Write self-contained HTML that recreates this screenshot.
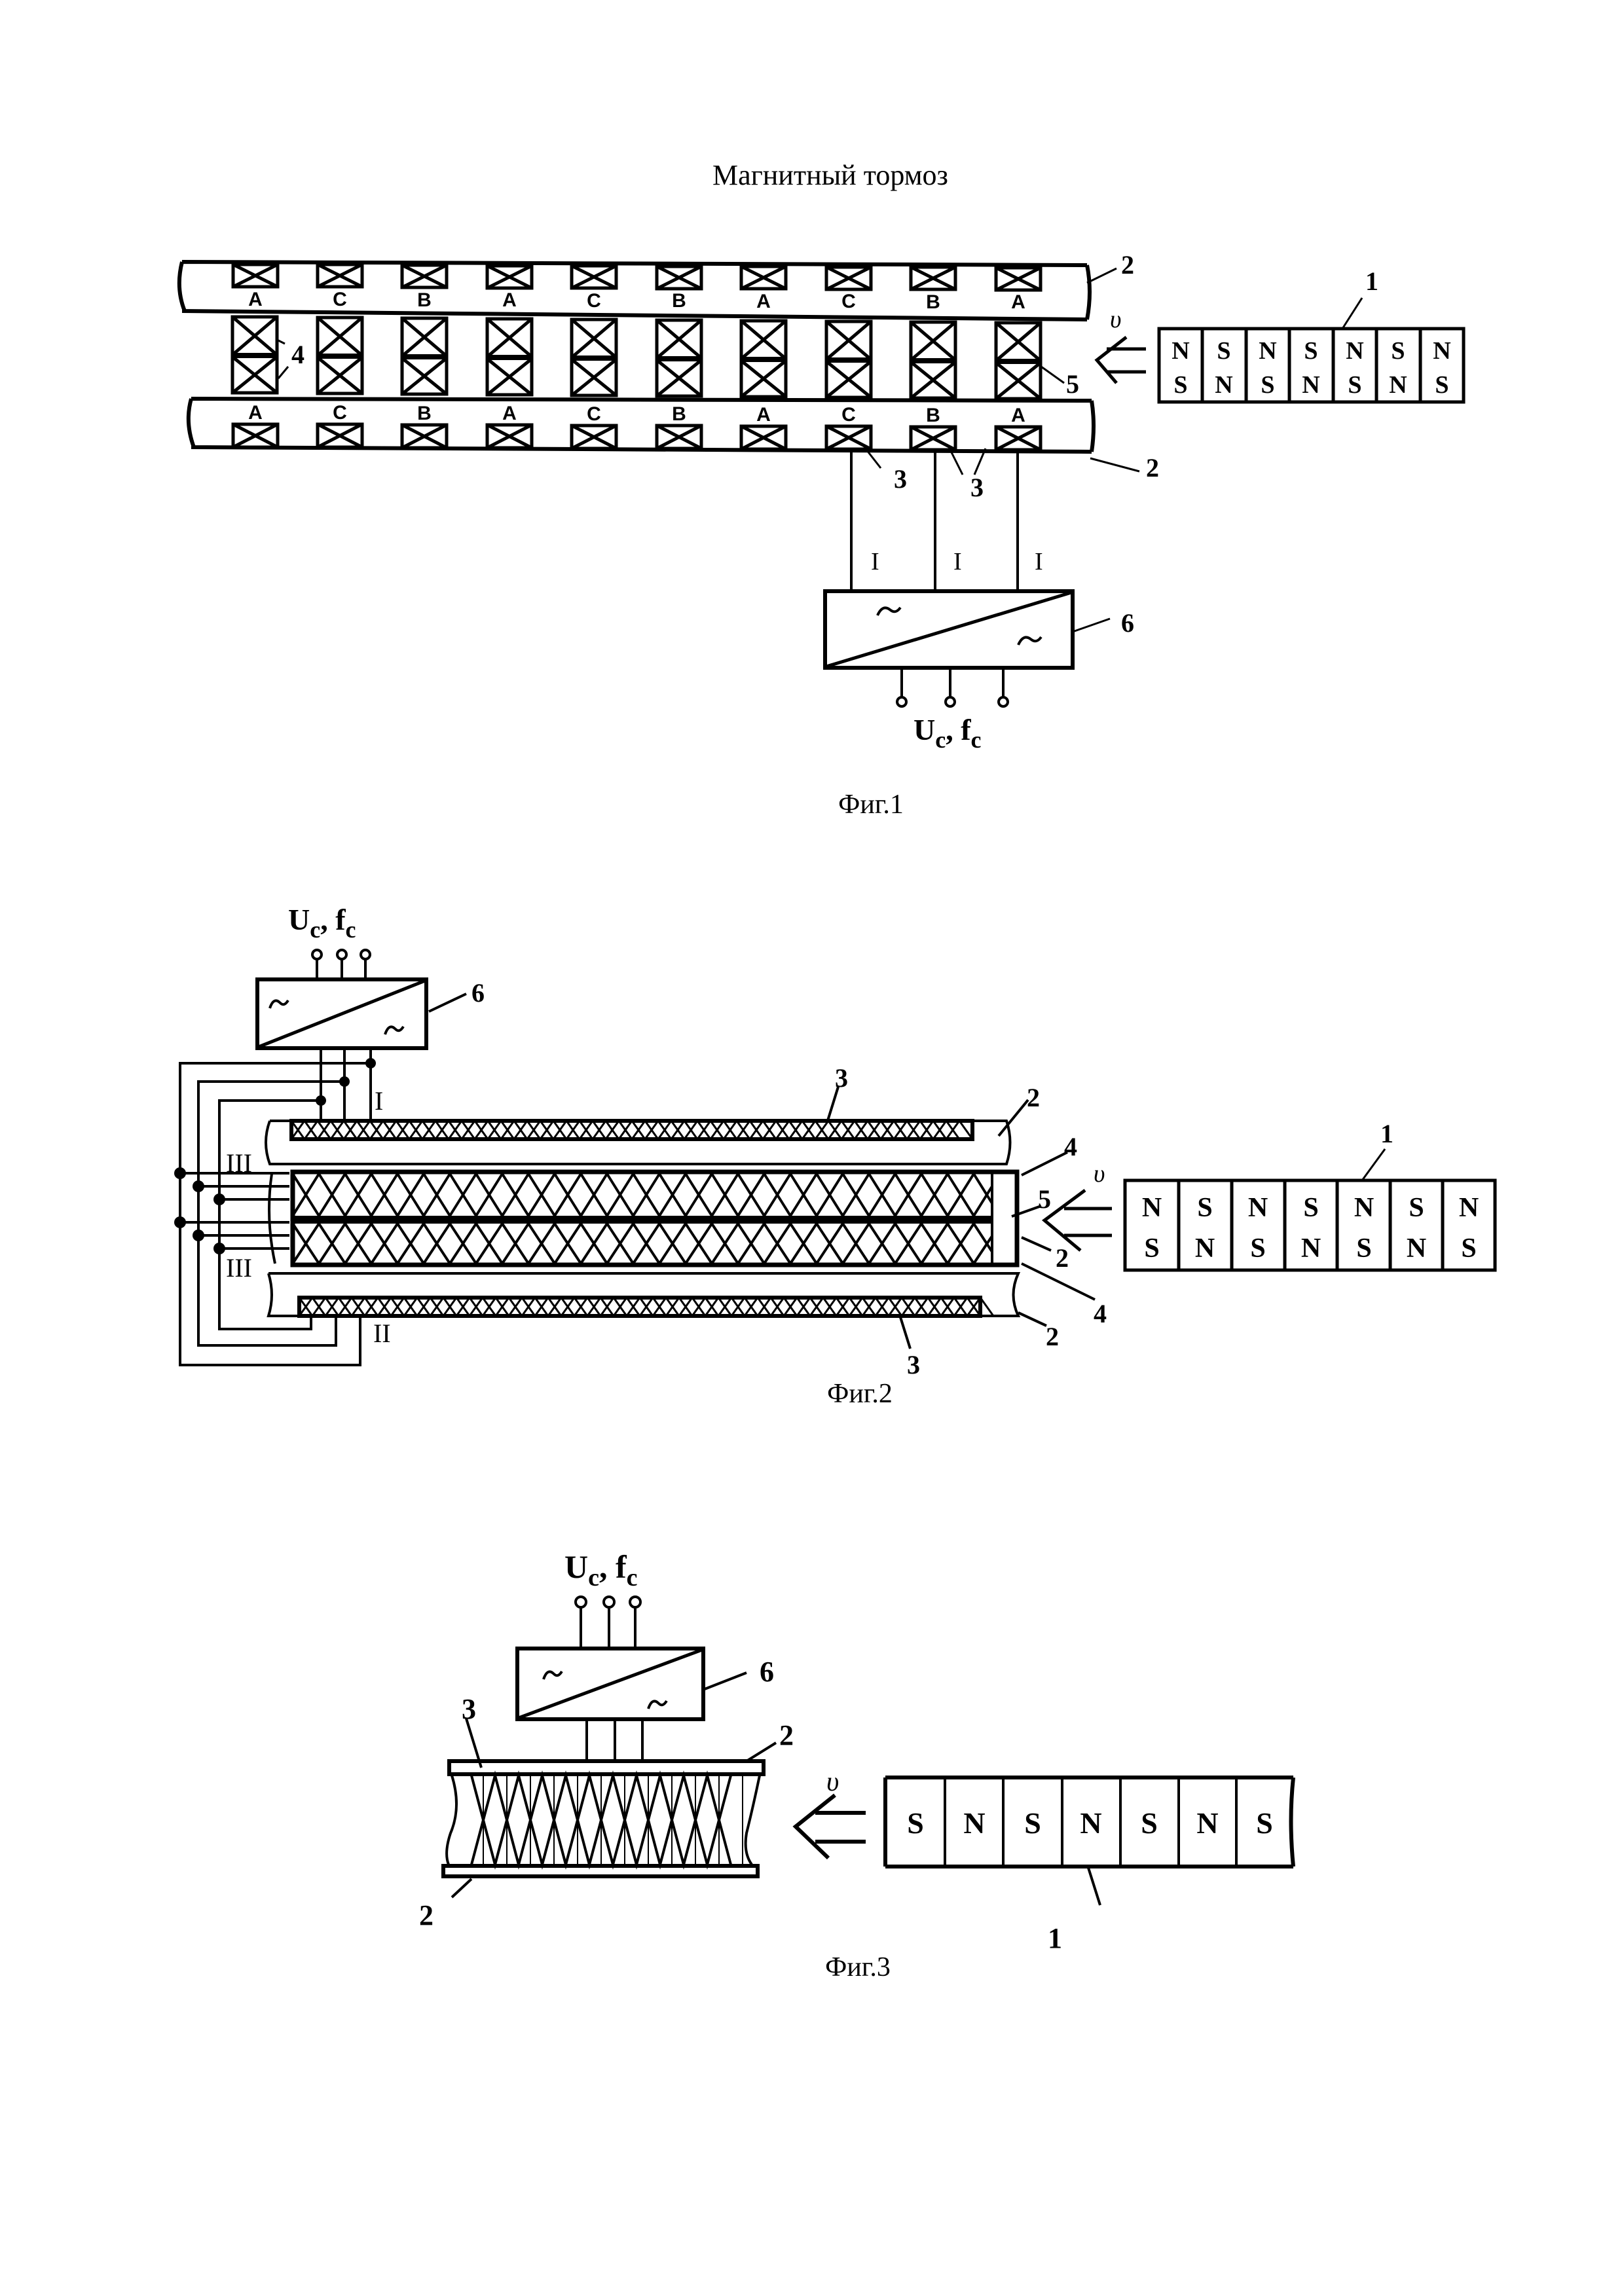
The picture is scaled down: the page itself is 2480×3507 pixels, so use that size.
<!DOCTYPE html>
<html><head><meta charset="utf-8"><style>
html,body{margin:0;padding:0;background:#fff;}
svg{display:block;}
.t{font-family:"Liberation Serif",serif;}
</style></head><body>
<svg width="2480" height="3507" viewBox="0 0 2480 3507" xmlns="http://www.w3.org/2000/svg">
<rect width="2480" height="3507" fill="#fff"/>
<text x="1268" y="282" font-family="Liberation Serif,serif" font-size="44" text-anchor="middle">Магнитный тормоз</text>

<!-- FIG 1 -->
<g stroke="#000" fill="none" stroke-width="6">
<path d="M278,400 L1660,405 M278,475 L1660,488 M278,400 Q268,440 282,475 M1660,405 Q1668,445 1660,488"/>
<path d="M292,609 L1667,612 M292,683 L1667,690 M292,609 Q282,645 296,683 M1667,612 Q1673,650 1667,690"/>
</g>
<g stroke="#000" fill="none" stroke-width="5">
<rect x="356" y="404" width="68" height="34"/><path d="M356,404L424,438M424,404L356,438"/>
<rect x="485" y="404" width="68" height="34"/><path d="M485,404L553,438M553,404L485,438"/>
<rect x="614" y="405" width="68" height="34"/><path d="M614,405L682,439M682,405L614,439"/>
<rect x="744" y="406" width="68" height="34"/><path d="M744,406L812,440M812,406L744,440"/>
<rect x="873" y="406" width="68" height="34"/><path d="M873,406L941,440M941,406L873,440"/>
<rect x="1003" y="407" width="68" height="34"/><path d="M1003,407L1071,441M1071,407L1003,441"/>
<rect x="1132" y="407" width="68" height="34"/><path d="M1132,407L1200,441M1200,407L1132,441"/>
<rect x="1262" y="408" width="68" height="34"/><path d="M1262,408L1330,442M1330,408L1262,442"/>
<rect x="1391" y="408" width="68" height="34"/><path d="M1391,408L1459,442M1459,408L1391,442"/>
<rect x="1521" y="409" width="68" height="34"/><path d="M1521,409L1589,443M1589,409L1521,443"/>

<rect x="356" y="648" width="68" height="35"/><path d="M356,648L424,683M424,648L356,683"/>
<rect x="485" y="648" width="68" height="35"/><path d="M485,648L553,683M553,648L485,683"/>
<rect x="614" y="649" width="68" height="35"/><path d="M614,649L682,684M682,649L614,684"/>
<rect x="744" y="649" width="68" height="35"/><path d="M744,649L812,684M812,649L744,684"/>
<rect x="873" y="650" width="68" height="35"/><path d="M873,650L941,685M941,650L873,685"/>
<rect x="1003" y="650" width="68" height="35"/><path d="M1003,650L1071,685M1071,650L1003,685"/>
<rect x="1132" y="651" width="68" height="35"/><path d="M1132,651L1200,686M1200,651L1132,686"/>
<rect x="1262" y="651" width="68" height="35"/><path d="M1262,651L1330,686M1330,651L1262,686"/>
<rect x="1391" y="652" width="68" height="35"/><path d="M1391,652L1459,687M1459,652L1391,687"/>
<rect x="1521" y="652" width="68" height="35"/><path d="M1521,652L1589,687M1589,652L1521,687"/>

<rect x="355" y="484" width="68" height="116"/><path d="M355,484L423,542M423,484L355,542M355,545L423,600M423,545L355,600"/>
<rect x="485" y="485" width="68" height="116"/><path d="M485,485L553,543M553,485L485,543M485,546L553,601M553,546L485,601"/>
<rect x="614" y="486" width="68" height="116"/><path d="M614,486L682,544M682,486L614,544M614,547L682,602M682,547L614,602"/>
<rect x="744" y="487" width="68" height="116"/><path d="M744,487L812,545M812,487L744,545M744,548L812,603M812,548L744,603"/>
<rect x="873" y="488" width="68" height="116"/><path d="M873,488L941,546M941,488L873,546M873,549L941,604M941,549L873,604"/>
<rect x="1003" y="489" width="68" height="116"/><path d="M1003,489L1071,547M1071,489L1003,547M1003,550L1071,605M1071,550L1003,605"/>
<rect x="1132" y="490" width="68" height="116"/><path d="M1132,490L1200,548M1200,490L1132,548M1132,551L1200,606M1200,551L1132,606"/>
<rect x="1262" y="491" width="68" height="116"/><path d="M1262,491L1330,549M1330,491L1262,549M1262,552L1330,607M1330,552L1262,607"/>
<rect x="1391" y="492" width="68" height="116"/><path d="M1391,492L1459,550M1459,492L1391,550M1391,553L1459,608M1459,553L1391,608"/>
<rect x="1521" y="493" width="68" height="116"/><path d="M1521,493L1589,551M1589,493L1521,551M1521,554L1589,609M1589,554L1521,609"/>
</g>
<g fill="#000">
<rect x="355" y="539" width="68" height="8"/><rect x="485" y="540" width="68" height="8"/><rect x="614" y="541" width="68" height="8"/><rect x="744" y="542" width="68" height="8"/><rect x="873" y="543" width="68" height="8"/><rect x="1003" y="544" width="68" height="8"/><rect x="1132" y="545" width="68" height="8"/><rect x="1262" y="546" width="68" height="8"/><rect x="1391" y="547" width="68" height="8"/><rect x="1521" y="548" width="68" height="8"/>
</g>
<g font-family="Liberation Sans,sans-serif" font-weight="bold" font-size="30" text-anchor="middle">
<text x="390" y="467">A</text><text x="519" y="467">C</text><text x="648" y="468">B</text><text x="778" y="468">A</text><text x="907" y="469">C</text><text x="1037" y="469">B</text><text x="1166" y="470">A</text><text x="1296" y="470">C</text><text x="1425" y="471">B</text><text x="1555" y="471">A</text>
<text x="390" y="640">A</text><text x="519" y="640">C</text><text x="648" y="641">B</text><text x="778" y="641">A</text><text x="907" y="642">C</text><text x="1037" y="642">B</text><text x="1166" y="643">A</text><text x="1296" y="643">C</text><text x="1425" y="644">B</text><text x="1555" y="644">A</text>
</g>
<g class="t" font-weight="bold" font-size="40">
<text x="445" y="555">4</text><text x="1628" y="600">5</text>
<text x="1712" y="418">2</text><text x="1750" y="728">2</text>
<text x="1365" y="745">3</text><text x="1482" y="758">3</text>
<text x="2085" y="443">1</text><text x="1712" y="965">6</text>
</g>
<g stroke="#000" stroke-width="3" fill="none">
<path d="M425,520 L435,525 M425,578 L440,560"/>
<path d="M1590,560 L1625,585"/>
<path d="M1660,432 L1705,410 M1665,700 L1740,720"/>
<path d="M1320,683 L1345,715 M1450,685 L1470,725 M1505,685 L1488,725"/>
<path d="M2050,502 L2080,455"/>
<path d="M1638,965 L1695,945"/>
</g>
<text x="1695" y="500" class="t" font-style="italic" font-size="38">υ</text>
<g stroke="#000" stroke-width="5" fill="none">
<path d="M1690,533 L1750,533 M1690,568 L1750,568 M1720,515 L1675,550 L1705,585"/>
<rect x="1770" y="502" width="465" height="112"/>
<path d="M1836,502V614M1903,502V614M1969,502V614M2036,502V614M2102,502V614M2169,502V614"/>
</g>
<g class="t" font-weight="bold" font-size="38" text-anchor="middle">
<text x="1803" y="548">N</text><text x="1869" y="548">S</text><text x="1936" y="548">N</text><text x="2002" y="548">S</text><text x="2069" y="548">N</text><text x="2135" y="548">S</text><text x="2202" y="548">N</text>
<text x="1803" y="600">S</text><text x="1869" y="600">N</text><text x="1936" y="600">S</text><text x="2002" y="600">N</text><text x="2069" y="600">S</text><text x="2135" y="600">N</text><text x="2202" y="600">S</text>
</g>
<g stroke="#000" stroke-width="4" fill="none">
<path d="M1300,688V903M1428,688V903M1554,688V903"/>
<path d="M1377,1020V1065M1451,1020V1065M1532,1020V1065"/>
<rect x="1260" y="903" width="378" height="117" stroke-width="6"/>
<path d="M1262,1018 L1636,905" stroke-width="5"/>
<path d="M1340,940 q8,-18 20,-8 q8,6 15,-4 M1555,985 q8,-18 20,-8 q8,6 15,-4"/>
<circle cx="1377" cy="1072" r="7"/><circle cx="1451" cy="1072" r="7"/><circle cx="1532" cy="1072" r="7"/>
</g>
<g class="t" font-family="Liberation Sans,sans-serif" font-size="38">
<text x="1330" y="870">I</text><text x="1456" y="870">I</text><text x="1580" y="870">I</text>
</g>
<text x="1395" y="1130" class="t" font-weight="bold" font-size="46">U<tspan font-size="36" dy="12">c</tspan><tspan dy="-12">, f</tspan><tspan font-size="36" dy="12">c</tspan></text>
<text x="1330" y="1242" class="t" font-size="42" text-anchor="middle">Фиг.1</text>

<!-- FIG 2 -->
<text x="440" y="1420" class="t" font-weight="bold" font-size="46">U<tspan font-size="36" dy="12">c</tspan><tspan dy="-12">, f</tspan><tspan font-size="36" dy="12">c</tspan></text>
<g stroke="#000" stroke-width="4" fill="none">
<circle cx="484" cy="1458" r="7"/><circle cx="522" cy="1458" r="7"/><circle cx="558" cy="1458" r="7"/>
<path d="M484,1465V1496M522,1465V1496M558,1465V1496"/>
<rect x="393" y="1496" width="258" height="105" stroke-width="6"/>
<path d="M395,1599 L649,1498" stroke-width="5"/>
<path d="M412,1540 q6,-18 16,-8 q6,6 12,-4 M588,1580 q6,-18 16,-8 q6,6 12,-4"/>
<path d="M655,1545 L712,1518"/>
<path d="M490,1601V1712M526,1601V1712M566,1601V1712"/>
<path d="M566,1624H275V2085H550V2010M526,1652H303V2055H513V2010M490,1681H335V2030H475V2010"/>
<path d="M275,1792H442M303,1812H442M335,1832H442M275,1867H442M303,1887H442M335,1907H442"/>
<path d="M412,1712H1537 Q1548,1745 1537,1778 H412 Q400,1745 412,1712"/>
<path d="M410,1945H1555 Q1540,1978 1555,2010 H410 Q420,1978 410,1945"/>
<rect x="447" y="1790" width="1106" height="142" stroke-width="7"/>
<path d="M1515,1790V1932" />
<path d="M1280,1660 L1262,1718 M1570,1680 L1525,1735 M1630,1760 L1560,1795 M1590,1842 L1545,1858 M1605,1910 L1560,1890 M1672,1985 L1560,1930 M1598,2025 L1555,2005 M1390,2060 L1375,2012"/>
<path d="M415,1793 Q405,1860 420,1930"/>
</g>
<rect x="447" y="1857" width="1068" height="12" fill="#000"/>
<g stroke="#000" stroke-width="4" fill="none">
<path d="M447,1793 L487,1857 L527,1793 L567,1857 L607,1793 L647,1857 L687,1793 L727,1857 L767,1793 L807,1857 L847,1793 L887,1857 L927,1793 L967,1857 L1007,1793 L1047,1857 L1087,1793 L1127,1857 L1167,1793 L1207,1857 L1247,1793 L1287,1857 L1327,1793 L1367,1857 L1407,1793 L1447,1857 L1487,1793 L1515,1838"/>
<path d="M447,1857 L487,1793 L527,1857 L567,1793 L607,1857 L647,1793 L687,1857 L727,1793 L767,1857 L807,1793 L847,1857 L887,1793 L927,1857 L967,1793 L1007,1857 L1047,1793 L1087,1857 L1127,1793 L1167,1857 L1207,1793 L1247,1857 L1287,1793 L1327,1857 L1367,1793 L1407,1857 L1447,1793 L1487,1857 L1515,1812"/>
<path d="M447,1869 L487,1930 L527,1869 L567,1930 L607,1869 L647,1930 L687,1869 L727,1930 L767,1869 L807,1930 L847,1869 L887,1930 L927,1869 L967,1930 L1007,1869 L1047,1930 L1087,1869 L1127,1930 L1167,1869 L1207,1930 L1247,1869 L1287,1930 L1327,1869 L1367,1930 L1407,1869 L1447,1930 L1487,1869 L1515,1912"/>
<path d="M447,1930 L487,1869 L527,1930 L567,1869 L607,1930 L647,1869 L687,1930 L727,1869 L767,1930 L807,1869 L847,1930 L887,1869 L927,1930 L967,1869 L1007,1930 L1047,1869 L1087,1930 L1127,1869 L1167,1930 L1207,1869 L1247,1930 L1287,1869 L1327,1930 L1367,1869 L1407,1930 L1447,1869 L1487,1930 L1515,1888"/>
</g>
<g fill="#000">
<circle cx="275" cy="1792" r="9"/><circle cx="303" cy="1812" r="9"/><circle cx="335" cy="1832" r="9"/><circle cx="275" cy="1867" r="9"/><circle cx="303" cy="1887" r="9"/><circle cx="335" cy="1907" r="9"/>
<circle cx="566" cy="1624" r="8"/><circle cx="526" cy="1652" r="8"/><circle cx="490" cy="1681" r="8"/>
</g>
<g stroke="#000" stroke-width="6" fill="#fff">
<rect x="445" y="1712" width="1040" height="28"/>
<rect x="457" y="1982" width="1040" height="28"/>
</g>
<g stroke="#000" stroke-width="3" fill="none">
<path d="M445,1712 l20,28 l20,-28 l20,28 l20,-28 l20,28 l20,-28 l20,28 l20,-28 l20,28 l20,-28 l20,28 l20,-28 l20,28 l20,-28 l20,28 l20,-28 l20,28 l20,-28 l20,28 l20,-28 l20,28 l20,-28 l20,28 l20,-28 l20,28 l20,-28 l20,28 l20,-28 l20,28 l20,-28 l20,28 l20,-28 l20,28 l20,-28 l20,28 l20,-28 l20,28 l20,-28 l20,28 l20,-28 l20,28 l20,-28 l20,28 l20,-28 l20,28 l20,-28 l20,28 l20,-28 l20,28 l20,-28 l20,28"/>
<path d="M445,1740 l20,-28 l20,28 l20,-28 l20,28 l20,-28 l20,28 l20,-28 l20,28 l20,-28 l20,28 l20,-28 l20,28 l20,-28 l20,28 l20,-28 l20,28 l20,-28 l20,28 l20,-28 l20,28 l20,-28 l20,28 l20,-28 l20,28 l20,-28 l20,28 l20,-28 l20,28 l20,-28 l20,28 l20,-28 l20,28 l20,-28 l20,28 l20,-28 l20,28 l20,-28 l20,28 l20,-28 l20,28 l20,-28 l20,28 l20,-28 l20,28 l20,-28 l20,28 l20,-28 l20,28 l20,-28 l20,28 l20,-28 l20,28"/>
<path d="M457,1982 l20,28 l20,-28 l20,28 l20,-28 l20,28 l20,-28 l20,28 l20,-28 l20,28 l20,-28 l20,28 l20,-28 l20,28 l20,-28 l20,28 l20,-28 l20,28 l20,-28 l20,28 l20,-28 l20,28 l20,-28 l20,28 l20,-28 l20,28 l20,-28 l20,28 l20,-28 l20,28 l20,-28 l20,28 l20,-28 l20,28 l20,-28 l20,28 l20,-28 l20,28 l20,-28 l20,28 l20,-28 l20,28 l20,-28 l20,28 l20,-28 l20,28 l20,-28 l20,28 l20,-28 l20,28 l20,-28 l20,28 l20,-28 l20,28"/>
<path d="M457,2010 l20,-28 l20,28 l20,-28 l20,28 l20,-28 l20,28 l20,-28 l20,28 l20,-28 l20,28 l20,-28 l20,28 l20,-28 l20,28 l20,-28 l20,28 l20,-28 l20,28 l20,-28 l20,28 l20,-28 l20,28 l20,-28 l20,28 l20,-28 l20,28 l20,-28 l20,28 l20,-28 l20,28 l20,-28 l20,28 l20,-28 l20,28 l20,-28 l20,28 l20,-28 l20,28 l20,-28 l20,28 l20,-28 l20,28 l20,-28 l20,28 l20,-28 l20,28 l20,-28 l20,28 l20,-28 l20,28 l20,-28 l20,28"/>
</g>
<g class="t" font-family="Liberation Serif,serif" font-size="40">
<text x="572" y="1695">I</text><text x="345" y="1790">III</text><text x="345" y="1950">III</text><text x="570" y="2050">II</text>
</g>
<g class="t" font-weight="bold" font-size="40">
<text x="720" y="1530">6</text><text x="1275" y="1660">3</text><text x="1568" y="1690">2</text>
<text x="1625" y="1765">4</text><text x="1585" y="1845">5</text><text x="1612" y="1935">2</text>
<text x="1670" y="2020">4</text><text x="1597" y="2055">2</text><text x="1385" y="2098">3</text>
<text x="2108" y="1745">1</text>
</g>
<text x="1670" y="1805" class="t" font-style="italic" font-size="38">υ</text>
<g stroke="#000" stroke-width="5" fill="none">
<path d="M1625,1846H1698M1625,1887H1698M1657,1818L1595,1864L1650,1910"/>
<rect x="1718" y="1803" width="565" height="137"/>
<path d="M1800,1803V1940M1881,1803V1940M1962,1803V1940M2042,1803V1940M2123,1803V1940M2203,1803V1940"/>
<path d="M2080,1803 L2115,1755" stroke-width="3"/>
</g>
<g class="t" font-weight="bold" font-size="42" text-anchor="middle">
<text x="1759" y="1858">N</text><text x="1840" y="1858">S</text><text x="1921" y="1858">N</text><text x="2002" y="1858">S</text><text x="2083" y="1858">N</text><text x="2163" y="1858">S</text><text x="2243" y="1858">N</text>
<text x="1759" y="1920">S</text><text x="1840" y="1920">N</text><text x="1921" y="1920">S</text><text x="2002" y="1920">N</text><text x="2083" y="1920">S</text><text x="2163" y="1920">N</text><text x="2243" y="1920">S</text>
</g>
<text x="1313" y="2142" class="t" font-size="42" text-anchor="middle">Фиг.2</text>

<!-- FIG 3 -->
<text x="862" y="2410" class="t" font-weight="bold" font-size="50">U<tspan font-size="38" dy="12">c</tspan><tspan dy="-12">, f</tspan><tspan font-size="38" dy="12">c</tspan></text>
<g stroke="#000" stroke-width="4" fill="none">
<circle cx="887" cy="2447" r="8"/><circle cx="930" cy="2447" r="8"/><circle cx="970" cy="2447" r="8"/>
<path d="M887,2455V2518M930,2455V2518M970,2455V2518"/>
<rect x="790" y="2518" width="284" height="108" stroke-width="6"/>
<path d="M792,2624 L1072,2520" stroke-width="5"/>
<path d="M830,2565 q6,-18 16,-8 q6,6 12,-4 M990,2610 q6,-18 16,-8 q6,6 12,-4"/>
<path d="M1076,2580 L1140,2555"/>
<path d="M896,2626V2690M939,2626V2690M981,2626V2690"/>
<rect x="686" y="2690" width="480" height="20" stroke-width="6"/>
<rect x="677" y="2850" width="480" height="16" stroke-width="6"/>
<path d="M690,2712 Q705,2760 688,2800 Q678,2830 685,2848 M1160,2712 Q1150,2760 1140,2800 Q1135,2830 1148,2848"/>
<path d="M720,2712 L756,2848 L792,2712 L828,2848 L864,2712 L900,2848 L936,2712 L972,2848 L1008,2712 L1044,2848 L1080,2712 L1116,2848"/>
<path d="M720,2848 L756,2712 L792,2848 L828,2712 L864,2848 L900,2712 L936,2848 L972,2712 L1008,2848 L1044,2712 L1080,2848 L1116,2712"/>
<path d="M738,2712V2848M774,2712V2848M810,2712V2848M846,2712V2848M882,2712V2848M918,2712V2848M954,2712V2848M990,2712V2848M1026,2712V2848M1062,2712V2848M1098,2712V2848M1134,2712V2848" stroke-width="2"/>
<path d="M712,2625 L735,2700 M1140,2690 L1185,2662 M720,2870 L690,2898 M1662,2853 L1680,2910"/>
</g>
<g class="t" font-weight="bold" font-size="44">
<text x="705" y="2625">3</text><text x="1190" y="2665">2</text><text x="640" y="2940">2</text><text x="1160" y="2568">6</text><text x="1600" y="2975">1</text>
</g>
<text x="1262" y="2735" class="t" font-style="italic" font-size="42">υ</text>
<g stroke="#000" stroke-width="6" fill="none">
<path d="M1245,2769H1322M1245,2813H1322M1275,2742L1215,2790L1265,2838"/>
<path d="M1352,2715H1975M1352,2851H1975M1352,2715V2851M1975,2715 Q1968,2780 1975,2851"/>
<path d="M1443,2715V2851M1532,2715V2851M1622,2715V2851M1711,2715V2851M1800,2715V2851M1888,2715V2851" stroke-width="4"/>
</g>
<g class="t" font-weight="bold" font-size="46" text-anchor="middle">
<text x="1398" y="2800">S</text><text x="1488" y="2800">N</text><text x="1577" y="2800">S</text><text x="1666" y="2800">N</text><text x="1755" y="2800">S</text><text x="1844" y="2800">N</text><text x="1931" y="2800">S</text>
</g>
<text x="1310" y="3018" class="t" font-size="42" text-anchor="middle">Фиг.3</text>
</svg>
</body></html>
